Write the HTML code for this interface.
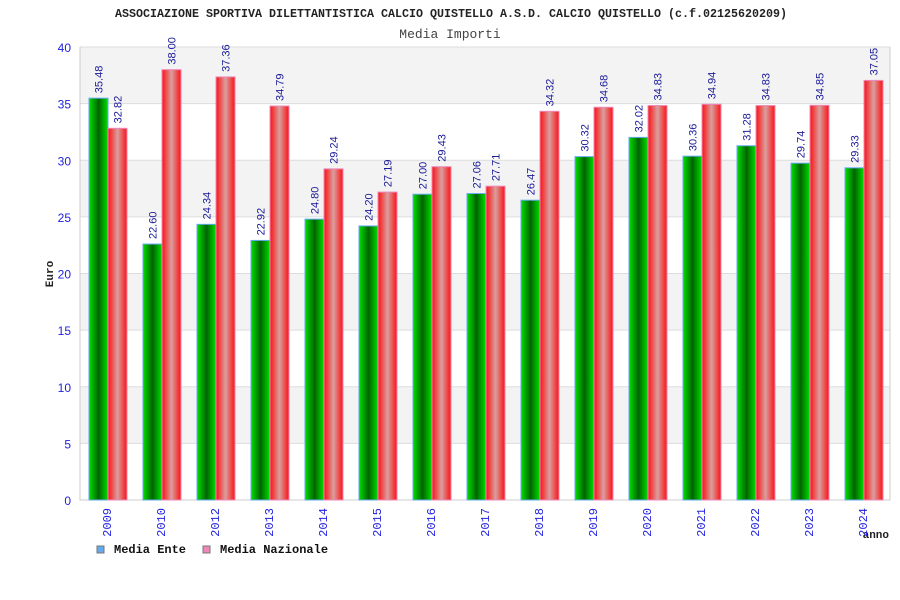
<!DOCTYPE html>
<html><head><meta charset="utf-8"><style>body{margin:0;background:#fff}svg{display:block}</style></head>
<body>
<svg id="c" width="900" height="600" xmlns="http://www.w3.org/2000/svg">
<defs>
<linearGradient id="gg" x1="0" x2="1"><stop offset="0" stop-color="#00e000"/><stop offset="0.5" stop-color="#006400"/><stop offset="1" stop-color="#00e000"/></linearGradient>
<linearGradient id="rg" x1="0" x2="1"><stop offset="0" stop-color="#ff1010"/><stop offset="0.5" stop-color="#d8a0a0"/><stop offset="1" stop-color="#ff1010"/></linearGradient>
</defs>
<text x="115" y="17" textLength="672" lengthAdjust="spacingAndGlyphs" font-family="Liberation Mono, monospace" font-size="11.5" font-weight="bold" fill="#222">ASSOCIAZIONE SPORTIVA DILETTANTISTICA CALCIO QUISTELLO A.S.D. CALCIO QUISTELLO (c.f.02125620209)</text>
<text x="450" y="38" text-anchor="middle" font-family="Liberation Mono, monospace" font-size="13" fill="#444">Media Importi</text>
<text transform="translate(53,274) rotate(-90)" text-anchor="middle" font-family="Liberation Mono, monospace" font-size="11" font-weight="bold" fill="#222">Euro</text>
<text x="889" y="538" text-anchor="end" font-family="Liberation Mono, monospace" font-size="11" font-weight="bold" fill="#222">anno</text>
<g id="grid"></g><g id="bars"></g><g id="labels"></g>
<g font-family="Liberation Mono, monospace" font-size="12" font-weight="bold" fill="#111">
<rect x="97" y="546" width="7" height="7" fill="#66aaee" stroke="#777"/>
<text x="114" y="553">Media Ente</text>
<rect x="203" y="546" width="7" height="7" fill="#ee88bb" stroke="#777"/>
<text x="220" y="553">Media Nazionale</text>
</g>
</svg>
<script>
const categories=["2009","2010","2012","2013","2014","2015","2016","2017","2018","2019","2020","2021","2022","2023","2024"];
const ente=[35.48,22.60,24.34,22.92,24.80,24.20,27.00,27.06,26.47,30.32,32.02,30.36,31.28,29.74,29.33];
const nazionale=[32.82,38.00,37.36,34.79,29.24,27.19,29.43,27.71,34.32,34.68,34.83,34.94,34.83,34.85,37.05];
const yTicks=[0,5,10,15,20,25,30,35,40];
const NS="http://www.w3.org/2000/svg";
const L=80,R=890,T=47,B=500,yMax=40;
const y=v=>B-(v/yMax)*(B-T);
const gw=(R-L)/categories.length;
const x=i=>L+i*gw;
function mk(tag,attrs,parent){const e=document.createElementNS(NS,tag);for(const k in attrs)e.setAttribute(k,attrs[k]);parent.appendChild(e);return e;}
const grid=document.getElementById('grid'),bars=document.getElementById('bars'),labels=document.getElementById('labels');
for(let k=0;k<yTicks.length-1;k++){
  const a=yTicks[k],b=yTicks[k+1];
  if(k%2===1){const r=mk('rect',{x:L,y:y(b),width:R-L,height:y(a)-y(b),fill:'#f3f3f3'},grid);
  
  }
}
yTicks.forEach(t=>{
  const ln=mk('line',{x1:L,x2:R,y1:y(t),y2:y(t),stroke:'#ddd'},grid);
  
  
  const tx=mk('text',{x:71,y:y(t)+5,'text-anchor':'end','font-family':'Liberation Sans, sans-serif','font-size':'12',fill:'#2222dd'},grid);
  tx.textContent=t;
  
  
});
const ax=mk('path',{d:`M${L},${T}V${B}H${R}V${T}`,fill:'none',stroke:'#ccc'},grid);


categories.forEach((c,i)=>{
  const x0=x(i)+9,w=19;
  [[ente[i],'url(#gg)','#66aaee',x0,'bar-ente-'+c],[nazionale[i],'url(#rg)','#ee88bb',x0+w,'bar-nazionale-'+c]].forEach(([v,f,s,bx,nm])=>{
    const r=mk('rect',{x:bx,y:y(v),width:w,height:B-y(v),fill:f,stroke:s,'stroke-width':1},bars);
    
    
    const t=mk('text',{transform:`translate(${bx+w/2+4},${y(v)-5}) rotate(-90)`,'font-family':'Liberation Sans, sans-serif','font-size':'11',fill:'#1a1a99'},labels);
    t.textContent=v.toFixed(2);
    
    
  });
  const xl=mk('text',{transform:`translate(${x(i)+gw/2+4},${508}) rotate(-90)`,'text-anchor':'end','font-family':'Liberation Mono, monospace','font-size':'12',fill:'#2222dd'},labels);
  xl.textContent=c;
  
  
});
</script>
</body></html>
